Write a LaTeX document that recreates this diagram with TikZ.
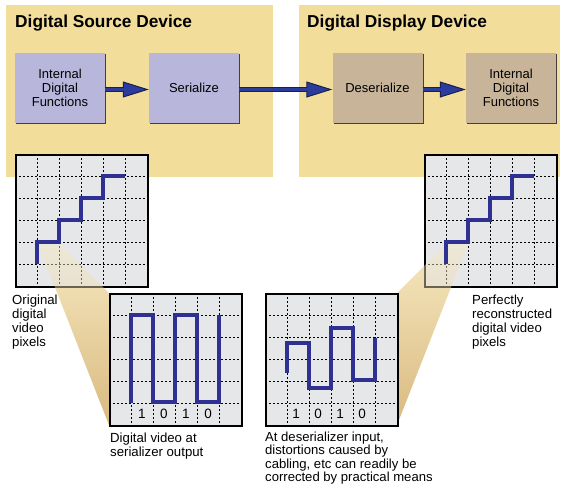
\documentclass[tikz,border=0pt]{standalone}
\usepackage{fontspec}
\setmainfont{Liberation Sans}
\usetikzlibrary{arrows.meta,shadows}
\definecolor{panel}{HTML}{F2DE9A}
\definecolor{srcfill}{HTML}{B9B6DC}
\definecolor{dspfill}{HTML}{C8B498}
\definecolor{gridgray}{HTML}{E6E7E9}
\definecolor{wave}{HTML}{2E3192}
\definecolor{arrowblue}{HTML}{2B3C9C}
\definecolor{arrownavy}{HTML}{1A1F50}
\definecolor{conetop}{HTML}{F6E8C0}
\definecolor{conebot}{HTML}{D9BA80}
\newcommand\pixgrid[3]{%
  \fill[gridgray] (#2,#3) rectangle ++(132,132);
  \foreach \i in {1,...,5} {
    \draw[griddash] ({#2+22*\i},#3) -- ++(0,132);
    \draw[griddash] (#2,{#3+22*\i}) -- ++(132,0);
  }
  \node[gridframe, anchor=north west] (#1) at (#2,#3) {};
}
\begin{document}
\begin{tikzpicture}[x=1pt,y=-1pt,
  panelbox/.style={fill=panel, draw=none, minimum width=#1, minimum height=172pt, inner sep=0pt},
  title/.style={font=\fontsize{17.3}{20}\selectfont\bfseries, inner sep=0pt, anchor=base west},
  fbox/.style={minimum width=90pt, minimum height=70pt, inner sep=0pt, align=center,
    font=\fontsize{13}{14}\selectfont,
    drop shadow={shadow xshift=1.4pt, shadow yshift=-1.4pt, fill=black!75, opacity=1}},
  srcbox/.style={fbox, fill=srcfill},
  dspbox/.style={fbox, fill=dspfill},
  arrowout/.style={line width=5.5pt, draw=arrownavy,
    -{Triangle[length=26pt,width=16pt,line width=1pt,color=arrownavy,fill=arrowblue]}},
  arrowin/.style={line width=3pt, draw=arrowblue, shorten >=24pt},
  griddash/.style={black, line width=0.7pt, dash pattern=on 2pt off 2pt},
  gridframe/.style={draw=black, line width=2pt, minimum width=132pt, minimum height=132pt, inner sep=0pt},
  wavepath/.style={draw=wave, line width=4pt, line join=miter},
  cone/.style={top color=conetop, bottom color=conebot},
  lbl/.style={font=\fontsize{13.2}{14}\selectfont, align=left, inner sep=0pt, anchor=north west},
  lbltight/.style={lbl, font=\fontsize{13.1}{13.5}\selectfont},
  digit/.style={font=\fontsize{13.5}{15}\selectfont, inner sep=0pt}
]
\useasboundingbox (0,0) rectangle (561,485);
\fill[white] (0,0) rectangle (561,485);

% panels
\node[panelbox=267pt] (srcpanel) at (139.5,91) {};
\node[panelbox=261pt] (dsppanel) at (429.5,91) {};
\node[title] (srctitle) at (15,27) {Digital Source Device};
\node[title] (dsptitle) at (307,27) {Digital Display Device};

% function boxes
\node[srcbox] (idf1) at (60,88) {Internal\\Digital\\Functions};
\node[srcbox] (ser) at (194,88) {Serialize};
\node[dspbox] (deser) at (377.5,88) {Deserialize};
\node[dspbox] (idf2) at (511,88) {Internal\\Digital\\Functions};

% arrows
\foreach \a/\b in {idf1/ser, ser/deser, deser/idf2} {
  \draw[arrowout] ([yshift=-1.5pt]\a.east) -- ([yshift=-1.5pt]\b.west);
  \draw[arrowin] ([yshift=-1.5pt]\a.east) -- ([yshift=-1.5pt]\b.west);
}

% magnification cones
\shade[cone] (38,244) -- (60,244) -- (109,293) -- (109,425) -- cycle;
\shade[cone] (446,244) -- (468,244) -- (397,425) -- (397,293) -- cycle;

% grids
\pixgrid{gA}{15}{154}
\pixgrid{gB}{424}{154}
\pixgrid{gC}{109}{293}
\pixgrid{gD}{265}{293}

% cone overlays on the pixel grids
\begin{scope}
  \clip (15,154) rectangle ++(132,133);
  \shade[cone, fill opacity=0.45] (38,244) -- (60,244) -- (109,293) -- (109,425) -- cycle;
\end{scope}
\begin{scope}
  \clip (423,154) rectangle ++(133,133);
  \shade[cone, fill opacity=0.45] (446,244) -- (468,244) -- (397,425) -- (397,293) -- cycle;
\end{scope}

% pixel staircases
\draw[wavepath] (37,264) -- (37,242) -- (59,242) -- (59,220) -- (81,220) -- (81,198) -- (103,198) -- (103,176) -- (125,176);
\draw[wavepath] (446,264) -- (446,242) -- (468,242) -- (468,220) -- (490,220) -- (490,198) -- (512,198) -- (512,176) -- (534,176);

% serialized waveforms
\draw[wavepath] (131,403) -- (131,315) -- (153,315) -- (153,402) -- (175,402) -- (175,315) -- (197,315) -- (197,402) -- (219,402) -- (219,315);
\draw[wavepath] (287,373) -- (287,343) -- (309,343) -- (309,388) -- (331,388) -- (331,328) -- (353,328) -- (353,380) -- (375,380) -- (375,338);

% bit labels
\node[digit] (c1) at (142,414) {1};
\node[digit] (c2) at (164,414) {0};
\node[digit] (c3) at (186,414) {1};
\node[digit] (c4) at (208,414) {0};
\node[digit] (d1) at (296,414) {1};
\node[digit] (d2) at (318,414) {0};
\node[digit] (d3) at (340,414) {1};
\node[digit] (d4) at (362,414) {0};

% captions
\node[lbl] (origlbl) at (12,295) {Original\\digital\\video\\pixels};
\node[lbl] (perflbl) at (472,295) {Perfectly\\reconstructed\\digital video\\pixels};
\node[lbl] (serlbl) at (110,432.5) {Digital video at\\serializer output};
\node[lbltight] (deslbl) at (265,431.5) {At deserializer input,\\distortions caused by\\cabling, etc can readily be\\corrected by practical means};
\end{tikzpicture}
\end{document}
